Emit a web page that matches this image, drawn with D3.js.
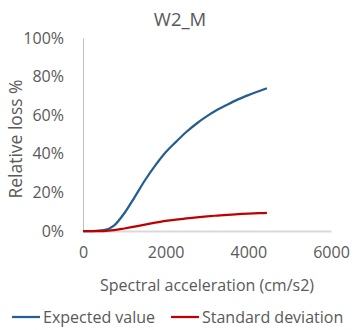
<!DOCTYPE html>
<html>
<head>
<meta charset="utf-8">
<script src="https://cdn.jsdelivr.net/npm/d3@7"></script>
<style>
	body { margin: 0; background: #fff; }
	svg text { font-family: "Open Sans", sans-serif; fill: #595959; }
</style>
</head>
<body>
<div id="chart"></div>
<script>
// spectral acceleration (cm/s2)
const accel = [0, 250, 500, 750, 1000, 1250, 1500, 1750, 2000, 2250, 2500, 2750, 3000, 3250, 3500, 3750, 4000, 4250, 4450];
// relative loss, %
const expectedValue = [0, 0, 0.4, 2.8, 9.2, 17.6, 26.3, 34, 40.8, 46.2, 51.3, 55.7, 59.5, 62.8, 65.6, 68.2, 70.4, 72.4, 74];
const standardDeviation = [0, 0, 0, 0.4, 1.3, 2.3, 3.3, 4.3, 5.2, 5.9, 6.5, 7.1, 7.6, 8.0, 8.4, 8.7, 9.0, 9.2, 9.4];
const xTicks = [0, 2000, 4000, 6000];
const yTicks = [0, 20, 40, 60, 80, 100];
const seriesNames = ['Expected value', 'Standard deviation'];
const seriesColors = ['#255e91', '#c00000'];

const width = 353, height = 330;
const margins = { top: 38, left: 83, right: 22, bottom: 99 };

let svg = d3.select('#chart').append('svg')
	.attr('width', width)
	.attr('height', height);

let xScale = d3.scaleLinear()
	.domain([0, 6000])
	.range([margins.left, width - margins.right]);
let yScale = d3.scaleLinear()
	.domain([0, 100])
	.range([height - margins.bottom, margins.top]);

// title
svg.append('text')
	.attr('x', 180)
	.attr('y', 26)
	.attr('text-anchor', 'middle')
	.style('font-size', '18.5px')
	.text('W2_M');

// y axis
let yAxis = d3.axisLeft(yScale).tickValues(yTicks).tickSize(0).tickPadding(19)
	.tickFormat(d => d + '%');
let gY = svg.append('g')
	.attr('transform', `translate(${margins.left},0)`)
	.call(yAxis);
gY.select('.domain').attr('stroke', '#bfbfbf').attr('stroke-width', 1);
gY.selectAll('text').style('font-size', '16px').attr('fill', '#595959');

// x axis
let xAxis = d3.axisBottom(xScale).tickValues(xTicks).tickSize(0).tickPadding(16)
	.tickFormat(d3.format('d'));
let gX = svg.append('g')
	.attr('transform', `translate(0,${yScale(0)})`)
	.call(xAxis);
gX.select('.domain').attr('stroke', '#d9d9d9').attr('stroke-width', 2);
gX.selectAll('text').style('font-size', '16px').attr('fill', '#595959');

// axis titles
svg.append('text')
	.attr('x', (xScale(0) + xScale(6000)) / 2)
	.attr('y', 291)
	.attr('text-anchor', 'middle')
	.style('font-size', '16px')
	.text('Spectral acceleration (cm/s2)');
svg.append('text')
	.attr('transform', 'translate(21.5,139) rotate(-90)')
	.attr('text-anchor', 'middle')
	.style('font-size', '17.5px')
	.text('Relative loss %');

// lines
let line = d3.line()
	.x((d, i) => xScale(accel[i]))
	.y(d => yScale(d))
	.curve(d3.curveMonotoneX);
[expectedValue, standardDeviation].forEach((s, i) => {
	svg.append('path')
		.attr('d', line(s))
		.attr('fill', 'none')
		.attr('stroke', seriesColors[i])
		.attr('stroke-width', 2.25);
});

// legend
let legendX = [12, 171];
seriesNames.forEach((name, i) => {
	let g = svg.append('g').attr('transform', `translate(${legendX[i]},317)`);
	g.append('line')
		.attr('x1', 0).attr('x2', 28)
		.attr('stroke', seriesColors[i])
		.attr('stroke-width', 2.25);
	g.append('text')
		.attr('x', 31)
		.attr('y', 5.5)
		.style('font-size', '16px')
		.text(name);
});
</script>
</body>
</html>
